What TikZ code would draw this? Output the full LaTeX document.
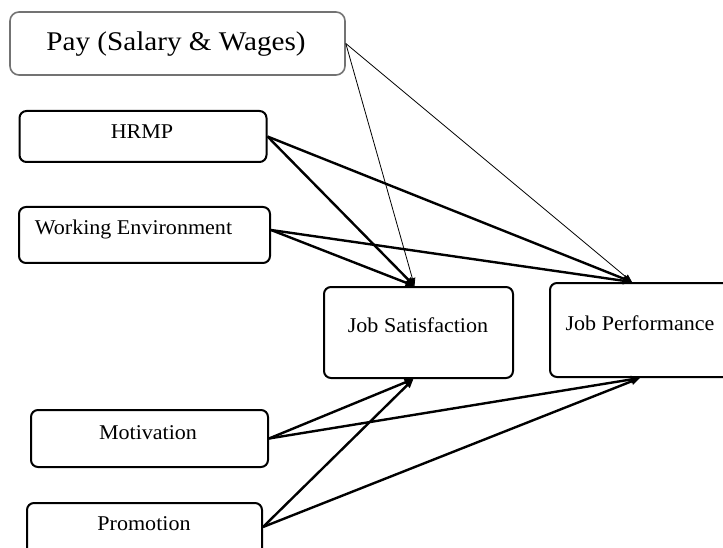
\documentclass[tikz,border=0pt]{standalone}
\usepackage{fontspec}
\setmainfont{Liberation Serif}
\usetikzlibrary{arrows.meta}
\begin{document}
\begin{tikzpicture}[x=1pt,y=-1pt,
  box/.style={draw=black,line width=2pt,rounded corners=7pt,inner sep=0pt},
  paybox/.style={draw=black!55,line width=1.6pt,rounded corners=9pt,inner sep=0pt},
  lbl/.style={font=\fontsize{21}{24}\selectfont,inner sep=0pt,xscale=1.05},
  thickarr/.style={line width=2.4pt,-{Triangle[length=9pt,width=7pt]}},
  thinarr/.style={line width=0.8pt,-{Triangle[length=8pt,width=6pt]}}]
\useasboundingbox (0,0) rectangle (723,548);
% boxes
\node[paybox,minimum width=335pt,minimum height=63pt] (pay) at (177.5,43.5) {};
\node[box,minimum width=247pt,minimum height=51pt] (hrmp) at (143,136.5) {};
\node[box,minimum width=251pt,minimum height=56pt] (we) at (144.5,235) {};
\node[box,minimum width=189pt,minimum height=91pt] (js) at (418.5,332.5) {};
\node[box,minimum width=180pt,minimum height=94pt] (jp) at (640,330) {};
\node[box,minimum width=237pt,minimum height=57pt] (mot) at (149.5,438.5) {};
\node[box,minimum width=235pt,minimum height=60pt] (pro) at (144.5,533) {};
% labels
\node[inner sep=0pt,font=\fontsize{27}{30}\selectfont,xscale=1.08] (payt) at (176,44) {Pay (Salary \& Wages)};
\node[lbl] (hrmpt) at (142,132) {HRMP};
\node[lbl] (wet) at (133.5,229) {Working Environment};
\node[lbl] (jst) at (418,325) {Job Satisfaction};
\node[lbl] (jpt) at (640,323) {Job Performance};
\node[lbl] (mott) at (148,433) {Motivation};
\node[lbl] (prot) at (144,524) {Promotion};
% connectors
\draw[thinarr] (pay.east) -- ([xshift=-4pt]js.north);
\draw[thinarr] (pay.east) -- ([xshift=-8pt]jp.north);
\draw[thickarr] (hrmp.east) -- ([xshift=-4pt]js.north);
\draw[thickarr] (hrmp.east) -- ([xshift=-8pt]jp.north);
\draw[thickarr] ([yshift=5pt]we.east) -- ([xshift=-4pt]js.north);
\draw[thickarr] ([yshift=5pt]we.east) -- ([xshift=-8pt]jp.north);
\draw[thickarr] (mot.east) -- ([xshift=-5pt]js.south);
\draw[thickarr] (mot.east) -- (jp.south);
\draw[thickarr] ([yshift=6pt]pro.east) -- ([xshift=-5pt]js.south);
\draw[thickarr] ([yshift=6pt]pro.east) -- (jp.south);
\end{tikzpicture}
\end{document}
